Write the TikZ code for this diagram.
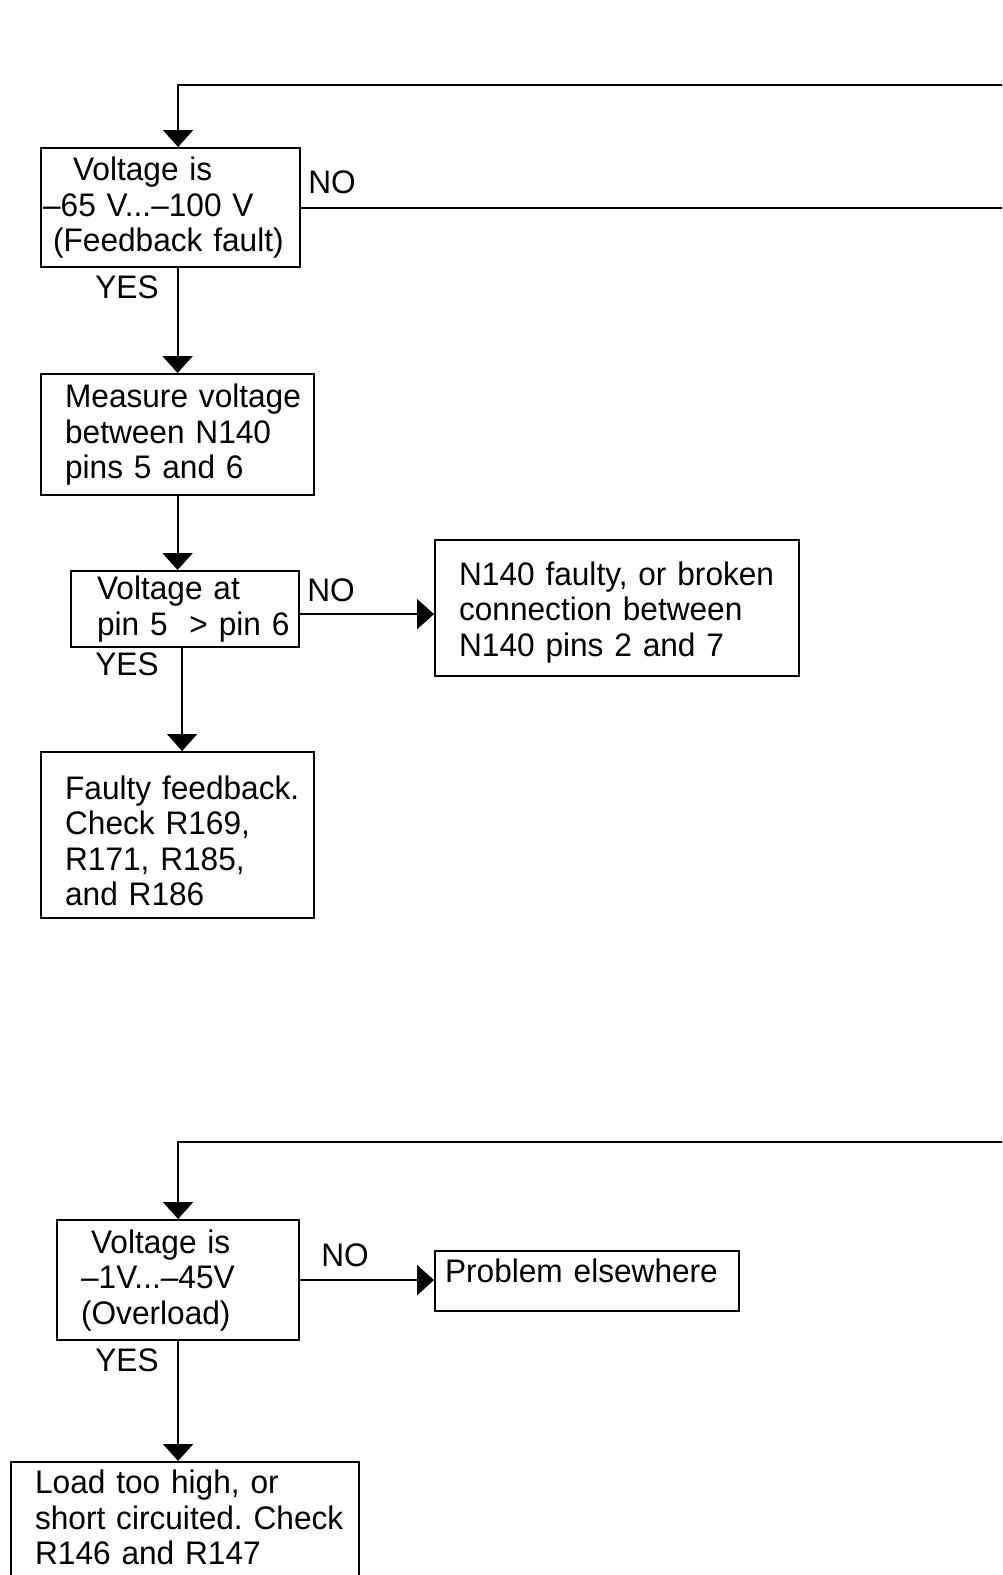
\documentclass[tikz,border=0pt]{standalone}
\usepackage{fontspec}
\setmainfont{Liberation Sans}[FakeStretch=0.97]
\usetikzlibrary{arrows.meta,positioning}

\begin{document}
\frenchspacing
\begin{tikzpicture}[x=0.5pt,y=-0.5pt,
  box/.style={draw=black,line width=1.1pt,align=left,anchor=north west,inner xsep=0pt,inner ysep=0pt,font=\fontsize{16.3}{17.75}\selectfont},
  lbl/.style={inner sep=0pt,font=\fontsize{16.3}{17.75}\selectfont},
  ln/.style={line width=1.1pt},
  arr/.style={line width=1.1pt,-{Triangle[width=15pt,length=8.5pt]}}]
  \useasboundingbox (0,0) rectangle (1002,1575);
  \clip (0,0) rectangle (1002,1575);
  % feedback fault
  \node[box,text width=129.5pt,minimum height=59.5pt] (fb) at (40,147){\hspace*{16pt}Voltage is\\\hspace*{1pt}–65 V...–100 V\\\hspace*{6pt}(Feedback fault)};
  \node[box,text width=136.5pt,minimum height=60.5pt] (ms) at (40,373){\hspace*{12pt}Measure voltage\\\hspace*{12pt}between N140\\\hspace*{12pt}pins 5 and 6};
  \node[box,text width=114pt,minimum height=38pt] (vp) at (70,570){\hspace*{13pt}Voltage at\\\hspace*{13pt}pin 5~ > pin 6};
  \node[box,text width=182pt] (nf) at (434,539){\hspace*{12pt}\rule{0pt}{22.5pt}N140 faulty, or broken\\\hspace*{12pt}connection between\\\hspace*{12pt}N140 pins 2 and 7\rule[-10pt]{0pt}{10pt}};
  \node[box,text width=136.5pt] (ff) at (40,751){\hspace*{12pt}\rule{0pt}{23.5pt}Faulty feedback.\\\hspace*{12pt}Check R169,\\\hspace*{12pt}R171, R185,\\\hspace*{12pt}and R186\rule[-6.2pt]{0pt}{6.2pt}};
  \node[lbl] (no1) at (332,182){NO};
  \node[lbl] (yes1) at (127,287){YES};
  \node[lbl] (no2) at (331,590){NO};
  \node[lbl] (yes2) at (127,664){YES};
  \coordinate (fbin) at (1010,85);
  \coordinate (fbno) at (1010,205);
     \draw[arr] (fbin) -| ([xshift=3.75pt]fb.north);
     \draw[ln] (fb.east) -- (fb.east -| fbno);
     \draw[arr] (fb.south -| ms.north) -- (ms.north);
     \draw[arr] (ms.south) -- (ms.south |- vp.north);
     \draw[arr] ([yshift=-2.5pt]vp.east) -- ([yshift=-2.5pt]vp.east -| nf.west);
     \draw[arr] ([xshift=-1.5pt]vp.south) -- ([xshift=-1.5pt]vp.south |- ff.north);
  % overload
  \node[box,text width=121pt,minimum height=60pt] (ov) at (56,1219){\hspace*{17pt}Voltage is\\\hspace*{12pt}–1V...–45V\\\hspace*{12pt}(Overload)};
  \node[box,text width=152pt] (pe) at (434,1250){\hspace*{5pt}Problem elsewhere\rule[-14.15pt]{0pt}{30pt}};
  \node[box,text width=174pt] (lt) at (10,1461){\hspace*{12pt}\rule{0pt}{15.85pt}Load too high, or\\\hspace*{12pt}short circuited. Check\\\hspace*{12pt}R146 and R147\rule[-11pt]{0pt}{11pt}};
  \node[lbl] (no3) at (345,1255){NO};
  \node[lbl] (yes3) at (127,1360){YES};
  \coordinate (ovin) at (1010,1142);
     \draw[arr] (ovin) -| (ov.north);
     \draw[arr] (ov.east) -- (ov.east -| pe.west);
     \draw[arr] (ov.south) -- (ov.south |- lt.north);
\end{tikzpicture}
\end{document}
